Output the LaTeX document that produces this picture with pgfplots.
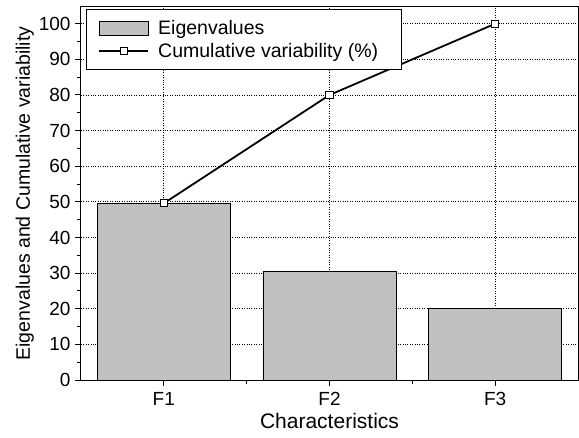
\documentclass[border=0pt]{standalone}
\usepackage{pgfplots}
\pgfplotsset{compat=1.18}
\usepackage{fontspec}
\setmainfont{Liberation Sans}
\definecolor{bargray}{RGB}{192,192,192}
\begin{document}
\begin{tikzpicture}
\begin{axis}[
  name=ax,
  scale only axis,
  width=497pt, height=373pt,
  xmin=0.5, xmax=3.5,
  ymin=0, ymax=104.7,
  xtick={1,2,3},
  xticklabels={F1,F2,F3},
  minor xtick={1.5,2.5},
  ytick={0,10,...,100},
  minor ytick={5,15,...,105},
  tick pos=left,
  tick align=outside,
  major tick length=6pt,
  minor tick length=3.5pt,
  grid=major,
  major grid style={black, dotted, line width=0.8pt},
  axis line style={line width=1pt},
  every tick/.style={black, line width=1pt},
  tick label style={font=\fontsize{19}{22}\selectfont},
  /pgf/number format/assume math mode=true,
  xticklabel style={yshift=-3pt},
  yticklabel style={xshift=-1pt},
  xlabel={Characteristics},
  ylabel={Eigenvalues and Cumulative variability},
  xlabel style={font=\fontsize{21}{24}\selectfont, at={(axis description cs:0.5,0)}, anchor=north, yshift=-30pt},
  ylabel style={font=\fontsize{19.5}{22}\selectfont, yshift=-2pt},
  legend style={at={(0,1)}, anchor=north west, xshift=5pt, yshift=-2pt,
    draw=black, line width=0.8pt,
    font=\fontsize{19.5}{22}\selectfont, inner xsep=12pt, inner ysep=9pt, row sep=3pt,
    cells={anchor=west},
    /tikz/every odd column/.append style={column sep=7pt}},
  legend cell align=left,
]
\addplot[ybar, bar width=133pt, fill=bargray, draw=black, line width=0.8pt,
  legend image code/.code={\draw[fill=bargray, draw=black, line width=0.8pt] (0pt,-7pt) rectangle (49pt,7pt);}]
  coordinates {(1,49.6) (2,30.4) (3,20.0)};
\addlegendentry{Eigenvalues}
\addplot[black, line width=1.8pt, mark=square*, mark size=3.6pt,
  mark options={fill=white, draw=black, line width=0.8pt},
  legend image code/.code={\draw[black, line width=1.8pt] (0pt,0pt) -- (49pt,0pt); \draw[fill=white, draw=black, line width=0.8pt] (21pt,-3.6pt) rectangle (28.2pt,3.6pt);}]
  coordinates {(1,49.6) (2,80.0) (3,100.0)};
\addlegendentry{Cumulative variability (\%)\rule{9pt}{0pt}}
\end{axis}
\pgfresetboundingbox
\path ([xshift=-81pt,yshift=-57pt]ax.south west) rectangle ([xshift=1pt,yshift=7pt]ax.north east);
\end{tikzpicture}
\end{document}
